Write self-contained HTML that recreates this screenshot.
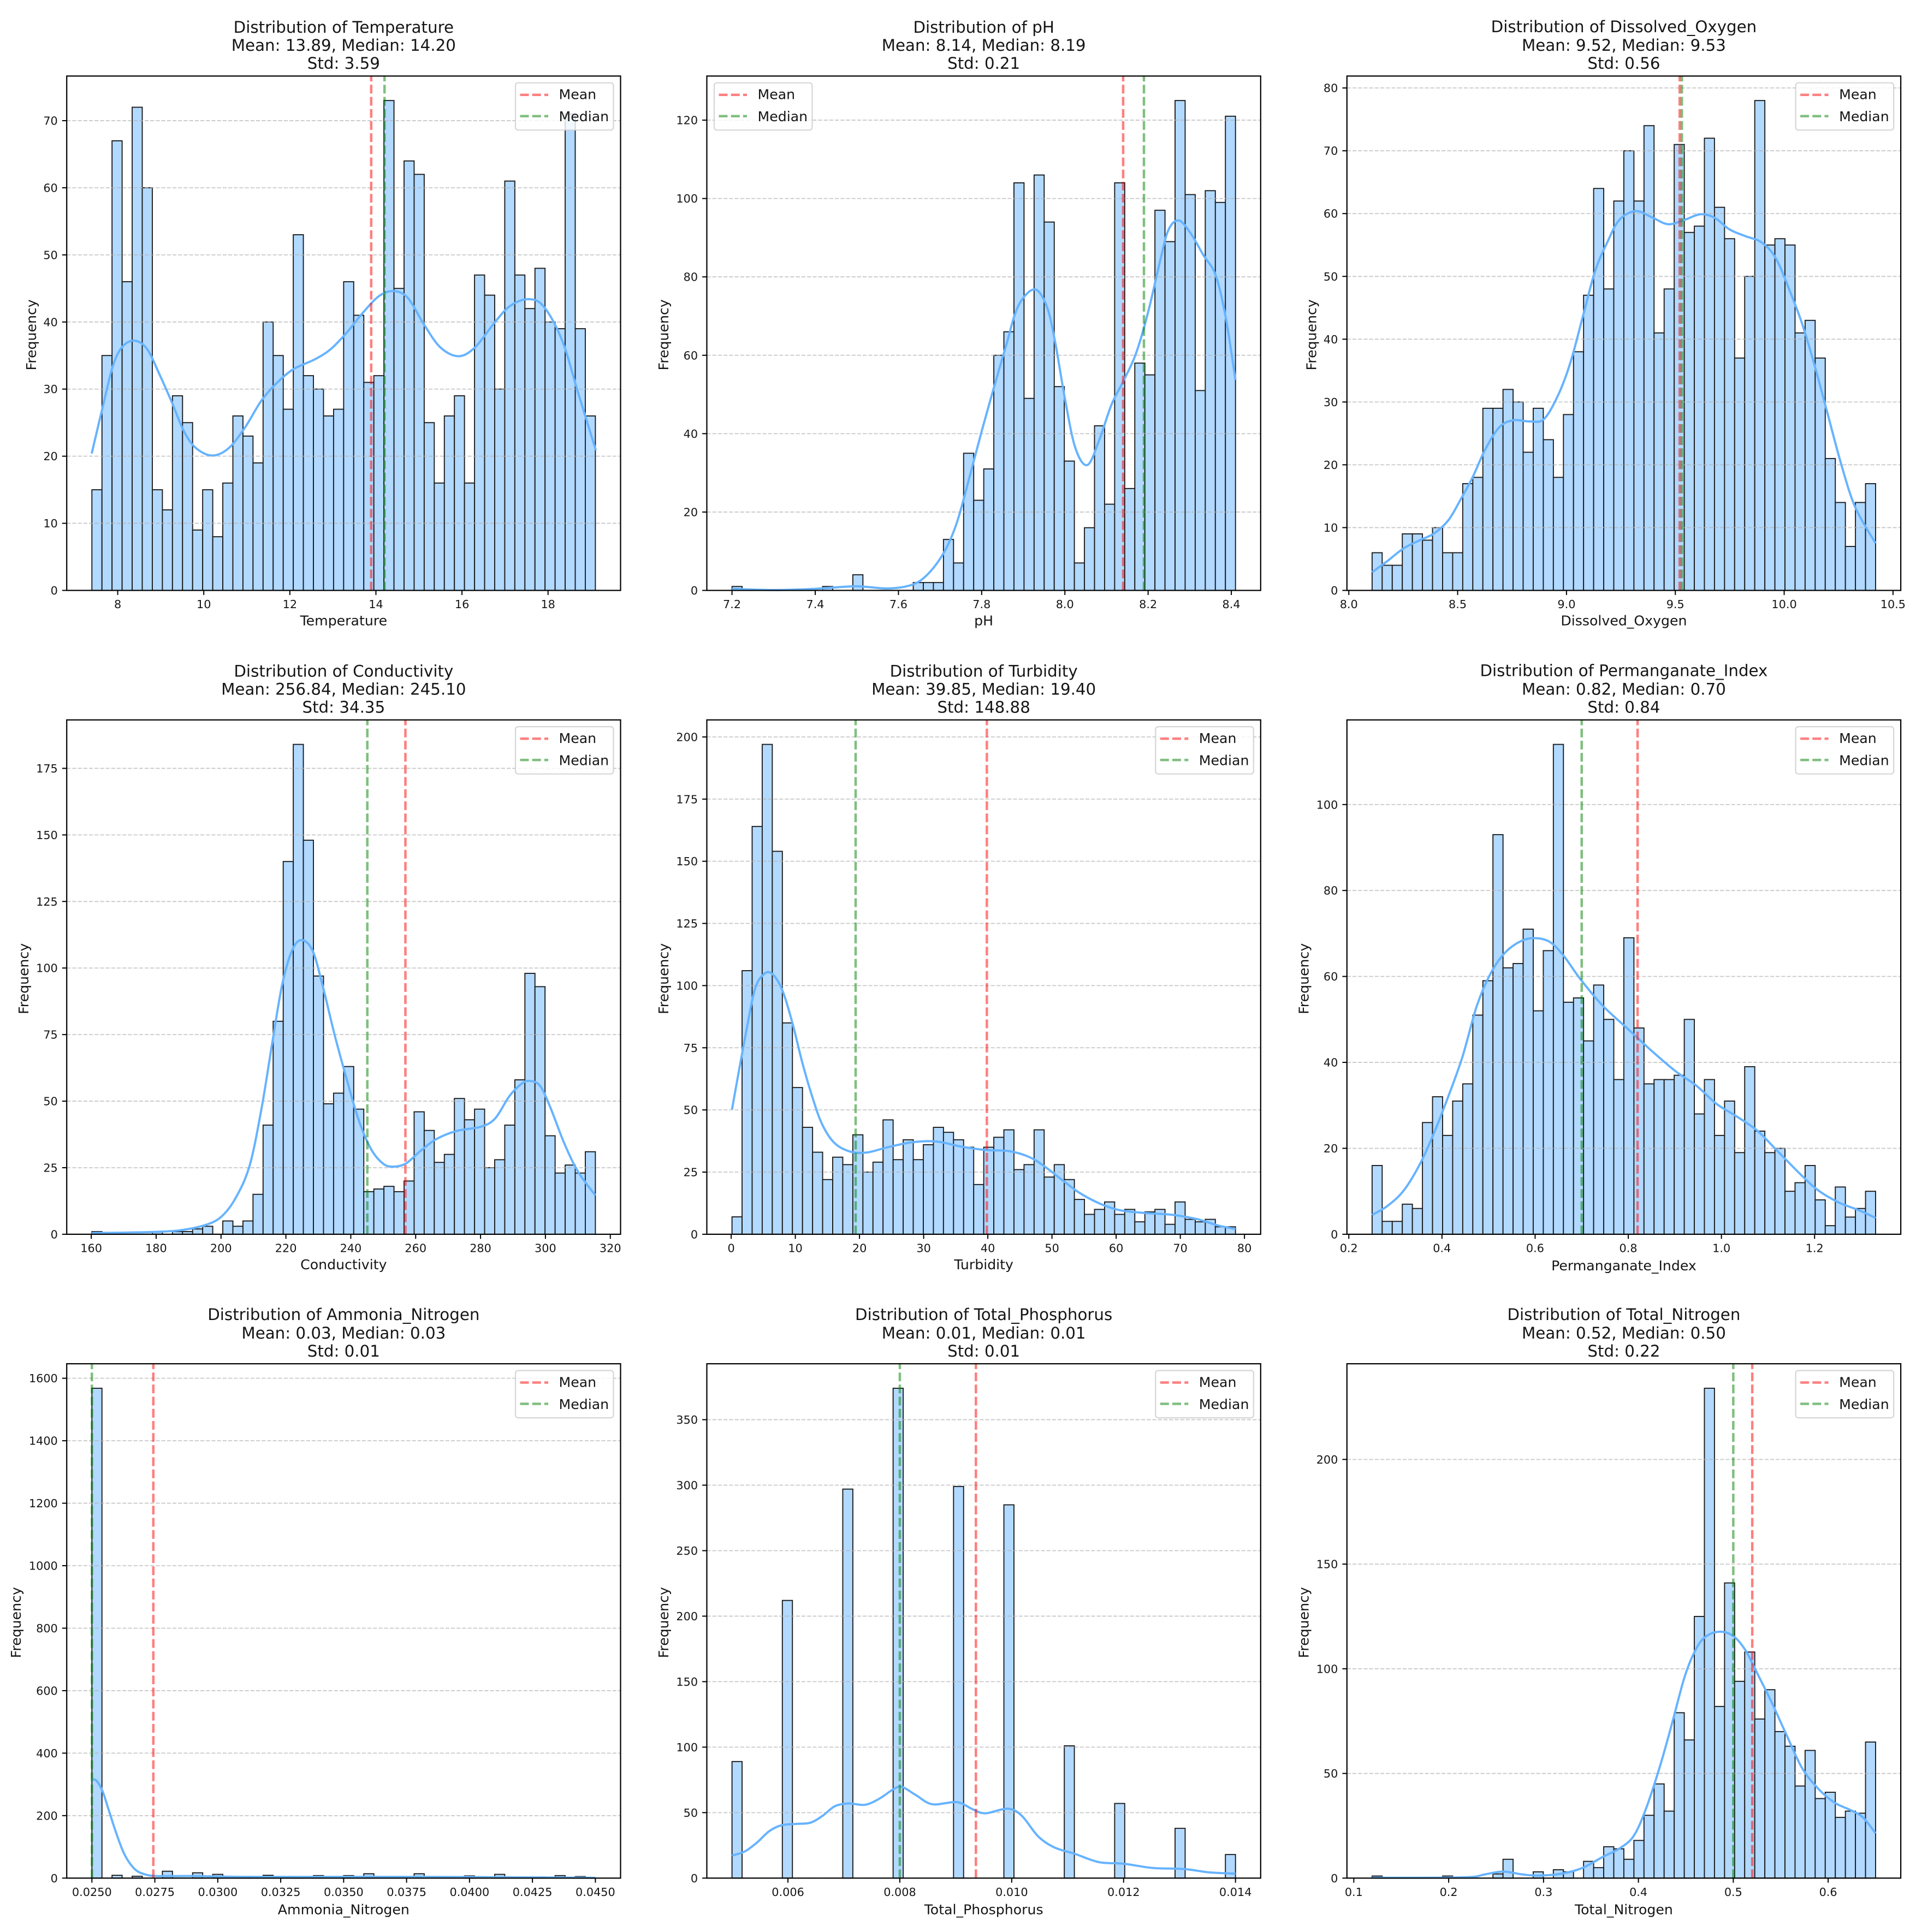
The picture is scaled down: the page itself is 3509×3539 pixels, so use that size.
<!DOCTYPE html>
<html lang="en">
<head>
<meta charset="utf-8">
<title>Water quality distributions</title>
<style>
html,body{margin:0;padding:0;background:#fff;}
svg{display:block;}
text{font-family:"DejaVu Sans","Liberation Sans",sans-serif;fill:#151515;}
</style>
</head>
<body>
<svg id="figure" xmlns="http://www.w3.org/2000/svg" width="3509" height="3539" viewBox="0 0 3509 3539">
<rect x="0" y="0" width="3509" height="3539" fill="#ffffff"/>
</svg>
<script>
// ---------- Temperature ----------
const temperatureRange = [7.4, 19.1];
const temperatureCounts = [15,35,67,46,72,60,15,12,29,25,9,15,8,16,26,23,19,40,35,27,53,32,30,26,27,46,41,31,32,73,45,64,62,25,16,26,29,16,47,44,30,61,47,42,48,40,39,71,39,26];
const temperatureKdeX = [7.395,7.65,7.89,8.12,8.41,8.69,8.97,9.26,9.54,9.82,10.2,10.58,10.96,11.34,11.71,12.09,12.57,12.94,13.32,13.7,14.08,14.41,14.74,15.12,15.5,15.92,16.3,16.72,17.1,17.53,17.9,18.33,18.71,19.11];
const temperatureKdeY = [20.4,27.3,33.5,36.4,37.2,35.9,32.2,28,23.7,21.2,20.1,21.2,24.3,28.3,31,33,34.4,35.9,38.4,41.4,43.9,44.6,43.6,39.6,36.2,34.9,36.2,39.6,42.3,43.4,42.3,37.2,29.2,20.9];
const temperatureXTicks = ["8","10","12","14","16","18"];
const temperatureYTicks = ["0","10","20","30","40","50","60","70"];

// ---------- pH ----------
const phRange = [7.2, 8.41];
const phCounts = [1,0,0,0,0,0,0,0,0,1,0,0,4,0,0,0,0,0,2,2,2,13,7,35,23,31,60,66,104,49,106,94,52,33,7,16,42,22,104,26,58,55,97,89,125,101,51,102,99,121];
const phKdeX = [7.2,7.301,7.399,7.497,7.575,7.634,7.673,7.712,7.741,7.771,7.8,7.829,7.859,7.888,7.927,7.956,7.976,8,8.025,8.054,8.083,8.112,8.142,8.171,8.2,8.23,8.249,8.274,8.303,8.332,8.362,8.386,8.41];
const phKdeY = [0.4,0.1,0.4,1.05,0.5,1.5,4.4,10.2,17.5,29,40.6,51.6,62.6,72.6,76.8,72.6,63.7,49,36.4,32,38.5,47.4,53.7,60.5,71,84.6,92,94.4,91,85.7,80.5,70,53.7];
const phXTicks = ["7.2","7.4","7.6","7.8","8.0","8.2","8.4"];
const phYTicks = ["0","20","40","60","80","100","120"];

// ---------- Dissolved oxygen ----------
const oxygenRange = [8.107, 10.42];
const oxygenCounts = [6,4,4,9,9,8,10,6,6,17,18,29,29,32,30,22,29,24,18,28,38,47,64,48,62,70,62,74,41,48,71,57,58,72,61,56,37,50,78,55,56,55,41,43,37,21,14,7,14,17];
const oxygenKdeX = [8.107,8.178,8.252,8.327,8.393,8.458,8.514,8.57,8.626,8.692,8.757,8.832,8.897,8.963,9.019,9.075,9.131,9.187,9.243,9.318,9.393,9.467,9.542,9.617,9.682,9.748,9.822,9.897,9.963,10.028,10.084,10.14,10.196,10.262,10.327,10.42];
const oxygenKdeY = [2.9,4.7,6.7,8,9.1,11.2,14.5,18.1,22.4,26,27.1,26.9,27.3,31.2,36.4,43.6,50.8,55.4,59,60.4,59.4,58.3,59,59.9,59.3,57.5,56.4,55.4,52.8,47.5,42.3,35.8,28.6,20.1,13.2,7.5];
const oxygenXTicks = ["8.0","8.5","9.0","9.5","10.0","10.5"];
const oxygenYTicks = ["0","10","20","30","40","50","60","70","80"];

// ---------- Conductivity ----------
const conductivityRange = [160.2, 315.4];
const conductivityCounts = [1,0,0,0,0,0,1,0,1,1,2,3,0,5,3,5,15,41,80,140,184,148,97,49,53,63,47,16,17,18,16,20,46,39,27,30,51,43,47,25,28,41,58,98,93,37,23,26,23,31];
const conductivityKdeX = [160.2,170,180,187.5,195,200,204.4,208.8,212.5,215.6,218.8,221.9,224.8,228.2,231.3,235,238.8,242.5,246.3,250,253.1,256.9,261.3,266.3,272.6,280.1,284.5,288.9,292.6,295.1,298.3,301.4,305.8,310.1,315.4];
const conductivityKdeY = [0.5,0.6,0.9,1.5,3.4,6.5,13.4,25.7,47.3,70.4,93.5,106.6,110.5,106.6,93.5,75,58,42.7,31.9,26.5,25.4,26.5,31.1,35.7,38.8,40.4,43.5,51.9,56.5,57.6,55.8,48,34.2,23.4,14.6];
const conductivityXTicks = ["160","180","200","220","240","260","280","300","320"];
const conductivityYTicks = ["0","25","50","75","100","125","150","175"];

// ---------- Turbidity ----------
const turbidityRange = [0.13, 78.6];
const turbidityCounts = [7,106,164,197,154,85,59,43,33,22,31,28,40,25,29,46,30,38,30,36,43,41,38,35,20,35,39,42,26,28,42,23,28,22,14,8,10,13,8,10,5,9,10,4,13,6,5,6,3,3];
const turbidityKdeX = [0.13,1.2,2.5,3.7,5,6.3,7.9,9.5,11.1,12.7,14.2,16.1,18.6,21.2,24.4,28.2,32,35.8,39.6,43.4,46.6,49.1,51.6,54.2,57.4,60.5,64.3,68.8,72.6,75.8,78.6];
const turbidityKdeY = [50.2,65.6,83.7,98.6,104.4,104.9,98.6,85.4,68.9,54.8,44.1,36.7,33.2,32.9,35,37,37.3,35.3,33.9,33.4,30.9,26.8,21.8,16.8,12.4,9.7,8.6,7.8,6.1,3.6,2.1];
const turbidityXTicks = ["0","10","20","30","40","50","60","70","80"];
const turbidityYTicks = ["0","25","50","75","100","125","150","175","200"];

// ---------- Permanganate index ----------
const permanganateRange = [0.25, 1.331];
const permanganateCounts = [16,3,3,7,6,26,32,23,31,35,51,59,93,62,63,71,52,66,114,54,55,45,58,50,36,69,48,35,36,36,37,50,28,36,23,31,19,39,24,19,20,10,12,16,8,2,11,4,6,10];
const permanganateKdeX = [0.25,0.283,0.318,0.353,0.383,0.414,0.444,0.475,0.505,0.536,0.571,0.601,0.632,0.662,0.697,0.745,0.798,0.85,0.902,0.946,0.99,1.033,1.077,1.121,1.173,1.208,1.252,1.295,1.331];
const permanganateKdeY = [4.5,6.6,10.2,16.4,23.6,32.2,41.3,53.2,60.8,65.6,68.3,68.9,68,64.7,59.4,53.2,47.9,42.7,37.9,34.6,30.3,27.4,24.1,19.3,13.6,10.2,7.4,5.6,3.8];
const permanganateXTicks = ["0.2","0.4","0.6","0.8","1.0","1.2"];
const permanganateYTicks = ["0","20","40","60","80","100"];

// ---------- Ammonia nitrogen ----------
const ammoniaRange = [0.025, 0.045];
const ammoniaCounts = [1568,0,9,0,6,0,0,22,0,0,17,0,12,0,0,5,0,9,4,0,4,0,8,0,0,8,0,14,0,0,0,0,14,0,0,0,0,7,0,0,12,0,0,0,4,0,8,0,5,0];
const ammoniaKdeX = [0.025,0.02518,0.02542,0.02566,0.02598,0.0263,0.0267,0.02711,0.02759,0.02897,0.03107,0.0343,0.03753,0.04076,0.045];
const ammoniaKdeY = [316,312,279,220,141,75,29,12,6.6,6.6,4,4,4,3,1];
const ammoniaXTicks = ["0.0250","0.0275","0.0300","0.0325","0.0350","0.0375","0.0400","0.0425","0.0450"];
const ammoniaYTicks = ["0","200","400","600","800","1000","1200","1400","1600"];

// ---------- Total phosphorus ----------
const phosphorusRange = [0.005, 0.014];
const phosphorusCounts = [89,0,0,0,0,212,0,0,0,0,0,297,0,0,0,0,374,0,0,0,0,0,299,0,0,0,0,285,0,0,0,0,0,101,0,0,0,0,57,0,0,0,0,0,38,0,0,0,0,18];
const phosphorusKdeX = [0.005,0.00523,0.00545,0.00567,0.00589,0.00615,0.0064,0.00662,0.00684,0.00709,0.00738,0.00764,0.00789,0.00804,0.00829,0.00858,0.00902,0.00931,0.00953,0.00993,0.01018,0.01047,0.01076,0.01113,0.01156,0.012,0.01251,0.01309,0.01353,0.014];
const phosphorusKdeY = [17.2,20.4,27.3,36,40.4,41.4,42.3,47.6,54.9,57,56,60.8,68,69.6,63.3,56.4,58,52.4,49.5,53,47.6,32,23.5,18.5,12.2,11,7.8,6.9,4.4,3.4];
const phosphorusXTicks = ["0.006","0.008","0.010","0.012","0.014"];
const phosphorusYTicks = ["0","50","100","150","200","250","300","350"];

// ---------- Total nitrogen ----------
const nitrogenRange = [0.1193, 0.65];
const nitrogenCounts = [1,0,0,0,0,0,0,1,0,0,0,0,2,9,0,0,3,0,4,3,0,8,5,15,14,9,18,30,45,32,79,66,125,234,82,141,94,108,76,90,70,63,44,61,38,41,29,32,31,65];
const nitrogenKdeX = [0.1193,0.1914,0.2255,0.2383,0.2576,0.2769,0.2941,0.3198,0.3412,0.3627,0.3798,0.3948,0.4077,0.4227,0.4355,0.4484,0.4591,0.4698,0.4848,0.4998,0.5126,0.5255,0.5405,0.5555,0.5726,0.5898,0.6069,0.6241,0.6369,0.65];
const nitrogenKdeY = [0.2,0.2,0.6,1.8,3.1,1.8,1.2,2.2,4.9,10.2,14.1,20,32.8,53.4,74,95.7,108,115,117.7,115.7,109,97.6,83.9,69,52.5,42.6,36,32.4,28.9,21.4];
const nitrogenXTicks = ["0.1","0.2","0.3","0.4","0.5","0.6"];
const nitrogenYTicks = ["0","50","100","150","200"];

// ---------- Shared series ----------
const featureNames = ["Temperature","pH","Dissolved_Oxygen","Conductivity","Turbidity","Permanganate_Index","Ammonia_Nitrogen","Total_Phosphorus","Total_Nitrogen"];
const titleFirstLines = ["Distribution of Temperature","Distribution of pH","Distribution of Dissolved_Oxygen","Distribution of Conductivity","Distribution of Turbidity","Distribution of Permanganate_Index","Distribution of Ammonia_Nitrogen","Distribution of Total_Phosphorus","Distribution of Total_Nitrogen"];
const titleSecondLines = ["Mean: 13.89, Median: 14.20","Mean: 8.14, Median: 8.19","Mean: 9.52, Median: 9.53","Mean: 256.84, Median: 245.10","Mean: 39.85, Median: 19.40","Mean: 0.82, Median: 0.70","Mean: 0.03, Median: 0.03","Mean: 0.01, Median: 0.01","Mean: 0.52, Median: 0.50"];
const titleThirdLines = ["Std: 3.59","Std: 0.21","Std: 0.56","Std: 34.35","Std: 148.88","Std: 0.84","Std: 0.01","Std: 0.01","Std: 0.22"];
const meanValues = [13.89,8.14,9.52,256.84,39.85,0.82,0.02744,0.00936,0.52];
const medianValues = [14.20,8.19,9.53,245.10,19.40,0.70,0.025,0.008,0.50];
const legendLabels = ["Mean","Median"];

const binRanges = [temperatureRange,phRange,oxygenRange,conductivityRange,turbidityRange,permanganateRange,ammoniaRange,phosphorusRange,nitrogenRange];
const binCounts = [temperatureCounts,phCounts,oxygenCounts,conductivityCounts,turbidityCounts,permanganateCounts,ammoniaCounts,phosphorusCounts,nitrogenCounts];
const kdeXSeries = [temperatureKdeX,phKdeX,oxygenKdeX,conductivityKdeX,turbidityKdeX,permanganateKdeX,ammoniaKdeX,phosphorusKdeX,nitrogenKdeX];
const kdeYSeries = [temperatureKdeY,phKdeY,oxygenKdeY,conductivityKdeY,turbidityKdeY,permanganateKdeY,ammoniaKdeY,phosphorusKdeY,nitrogenKdeY];
const xTickSets = [temperatureXTicks,phXTicks,oxygenXTicks,conductivityXTicks,turbidityXTicks,permanganateXTicks,ammoniaXTicks,phosphorusXTicks,nitrogenXTicks];
const yTickSets = [temperatureYTicks,phYTicks,oxygenYTicks,conductivityYTicks,turbidityYTicks,permanganateYTicks,ammoniaYTicks,phosphorusYTicks,nitrogenYTicks];

// ---------- Drawing ----------
const SVG_NS = 'http://www.w3.org/2000/svg';
const figure = document.getElementById('figure');
const AXES_WIDTH = 1014.3;
const AXES_HEIGHT = 942.2;
const TITLE_FONT = 29.3;
const LABEL_FONT = 25.2;
const TICK_FONT = 20.8;
const REF_DASH = '16 6.2';

function mk(tag, attrs, parent, content) {
  const node = document.createElementNS(SVG_NS, tag);
  for (const key in attrs) node.setAttribute(key, attrs[key]);
  if (content !== undefined) node.textContent = content;
  parent.appendChild(node);
  return node;
}

function smoothPath(points) {
  let d = 'M' + points[0][0].toFixed(2) + ' ' + points[0][1].toFixed(2);
  for (let i = 0; i < points.length - 1; i++) {
    const p0 = points[Math.max(0, i - 1)];
    const p1 = points[i];
    const p2 = points[i + 1];
    const p3 = points[Math.min(points.length - 1, i + 2)];
    const c1x = p1[0] + (p2[0] - p0[0]) / 6;
    const c1y = p1[1] + (p2[1] - p0[1]) / 6;
    const c2x = p2[0] - (p3[0] - p1[0]) / 6;
    const c2y = p2[1] - (p3[1] - p1[1]) / 6;
    d += 'C' + c1x.toFixed(2) + ' ' + c1y.toFixed(2) + ' ' + c2x.toFixed(2) + ' ' + c2y.toFixed(2) + ' ' + p2[0].toFixed(2) + ' ' + p2[1].toFixed(2);
  }
  return d;
}

function drawPanel(index) {
  const col = index % 3;
  const row = Math.floor(index / 3);
  const left = 122.2 + col * 1172.3;
  const top = 139.3 + row * 1179.4;
  const right = left + AXES_WIDTH;
  const bottom = top + AXES_HEIGHT;

  const counts = binCounts[index];
  const range = binRanges[index];
  const binWidth = (range[1] - range[0]) / counts.length;
  const xPad = (range[1] - range[0]) * 0.05;
  const xMin = range[0] - xPad;
  const xMax = range[1] + xPad;
  const yMax = Math.max.apply(null, counts) * 1.05;
  const xScale = function (v) { return left + (v - xMin) / (xMax - xMin) * AXES_WIDTH; };
  const yScale = function (v) { return bottom - v / yMax * AXES_HEIGHT; };

  const panel = mk('g', {}, figure);
  
  

  const background = mk('rect', {x: left, y: top, width: AXES_WIDTH, height: AXES_HEIGHT, fill: '#ffffff'}, panel);
  
  

  counts.forEach(function (count, i) {
    const x0 = xScale(range[0] + i * binWidth);
    const x1 = xScale(range[0] + (i + 1) * binWidth);
    const bar = mk('rect', {x: x0.toFixed(2), y: yScale(count).toFixed(2), width: (x1 - x0).toFixed(2), height: (bottom - yScale(count)).toFixed(2), fill: '#b2d9ff', stroke: '#1c1c1c', 'stroke-width': 1.9}, panel);
    
    
  });

  yTickSets[index].forEach(function (label) {
    const y = yScale(parseFloat(label));
    const grid = mk('line', {x1: left, x2: right, y1: y.toFixed(2), y2: y.toFixed(2), stroke: '#b0b0b0', 'stroke-opacity': 0.7, 'stroke-width': 1.8, 'stroke-dasharray': '7.1 3.1'}, panel);
    
    
  });

  const kdePoints = kdeXSeries[index].map(function (v, i) {
    return [xScale(v), yScale(kdeYSeries[index][i])];
  });
  const kde = mk('path', {d: smoothPath(kdePoints), fill: 'none', stroke: '#66b3ff', 'stroke-width': 4, 'stroke-linejoin': 'round'}, panel);
  
  

  const meanX = xScale(meanValues[index]);
  const meanLine = mk('line', {x1: meanX.toFixed(2), x2: meanX.toFixed(2), y1: bottom, y2: top, stroke: '#ff0000', 'stroke-opacity': 0.5, 'stroke-width': 4.5, 'stroke-dasharray': REF_DASH}, panel);
  
  

  const medianX = xScale(medianValues[index]);
  const medianLine = mk('line', {x1: medianX.toFixed(2), x2: medianX.toFixed(2), y1: bottom, y2: top, stroke: '#008000', 'stroke-opacity': 0.5, 'stroke-width': 4.5, 'stroke-dasharray': REF_DASH}, panel);
  
  

  const frame = mk('rect', {x: left, y: top, width: AXES_WIDTH, height: AXES_HEIGHT, fill: 'none', stroke: '#000000', 'stroke-width': 2.2}, panel);
  
  

  xTickSets[index].forEach(function (label) {
    const x = xScale(parseFloat(label));
    const tick = mk('line', {x1: x.toFixed(2), x2: x.toFixed(2), y1: bottom, y2: bottom + 8.4, stroke: '#000000', 'stroke-width': 2}, panel);
    
    
    const tickLabel = mk('text', {x: x.toFixed(2), y: bottom + 32.5, 'text-anchor': 'middle', 'font-size': TICK_FONT}, panel, label);
    
    
  });

  let longestLabel = 0;
  yTickSets[index].forEach(function (label) {
    const y = yScale(parseFloat(label));
    longestLabel = Math.max(longestLabel, label.length);
    const tick = mk('line', {x1: left - 8.4, x2: left, y1: y.toFixed(2), y2: y.toFixed(2), stroke: '#000000', 'stroke-width': 2}, panel);
    
    
    const tickLabel = mk('text', {x: left - 16.4, y: (y + 7.5).toFixed(2), 'text-anchor': 'end', 'font-size': TICK_FONT}, panel, label);
    
    
  });

  const centerX = left + AXES_WIDTH / 2;
  const centerY = top + AXES_HEIGHT / 2;

  const xTitleGap = index >= 5 ? 66 : 64;
  const xTitle = mk('text', {x: centerX, y: bottom + xTitleGap, 'text-anchor': 'middle', 'font-size': LABEL_FONT}, panel, featureNames[index]);
  
  

  const yTitleX = left - 28.6 - longestLabel * 13.9;
  const yTitle = mk('text', {x: 0, y: 0, transform: 'translate(' + yTitleX + ' ' + (centerY + 3) + ') rotate(-90)', 'text-anchor': 'middle', 'font-size': LABEL_FONT}, panel, 'Frequency');
  
  

  const firstLineLift = featureNames[index].indexOf('_') >= 0 ? 1 : 0;
  const titleLine1 = mk('text', {x: centerX, y: top - 79.3 - firstLineLift, 'text-anchor': 'middle', 'font-size': TITLE_FONT}, panel, titleFirstLines[index]);
  
  
  const titleLine2 = mk('text', {x: centerX, y: top - 46.3, 'text-anchor': 'middle', 'font-size': TITLE_FONT}, panel, titleSecondLines[index]);
  
  
  const titleLine3 = mk('text', {x: centerX, y: top - 13.3, 'text-anchor': 'middle', 'font-size': TITLE_FONT}, panel, titleThirdLines[index]);
  
  

  const legendLeft = index === 1 ? left + 13.5 : right - 13 - 179.5;
  const legendTop = top + 12.4;
  const legend = mk('g', {}, panel);
  
  
  const legendBox = mk('rect', {x: legendLeft, y: legendTop, width: 179.5, height: 86.6, rx: 5, ry: 5, fill: '#ffffff', 'fill-opacity': 0.8, stroke: '#cccccc', 'stroke-opacity': 0.8, 'stroke-width': 2.2}, legend);
  
  

  const meanKey = mk('line', {x1: legendLeft + 8.5, x2: legendLeft + 60, y1: legendTop + 22, y2: legendTop + 22, stroke: '#ff0000', 'stroke-opacity': 0.5, 'stroke-width': 4.5, 'stroke-dasharray': REF_DASH}, legend);
  
  
  const meanText = mk('text', {x: legendLeft + 79.5, y: legendTop + 30, 'font-size': LABEL_FONT}, legend, legendLabels[0]);
  
  

  const medianKey = mk('line', {x1: legendLeft + 8.5, x2: legendLeft + 60, y1: legendTop + 61, y2: legendTop + 61, stroke: '#008000', 'stroke-opacity': 0.5, 'stroke-width': 4.5, 'stroke-dasharray': REF_DASH}, legend);
  
  
  const medianText = mk('text', {x: legendLeft + 79.5, y: legendTop + 70.4, 'font-size': LABEL_FONT}, legend, legendLabels[1]);
  
  
}

featureNames.forEach(function (name, index) { drawPanel(index); });
</script>
</body>
</html>
